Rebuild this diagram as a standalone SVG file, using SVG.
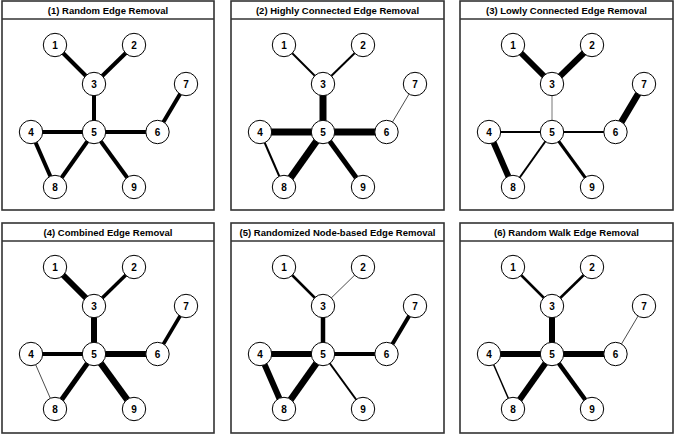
<svg xmlns="http://www.w3.org/2000/svg" width="675" height="434" viewBox="0 0 675 434">
<style>
.frame{fill:#fff;stroke:#333;stroke-width:1.6}
.sep{stroke:#333;stroke-width:1.6}
.title{font-family:"Liberation Sans",Arial,sans-serif;font-weight:bold;font-size:9.5px;fill:#000;text-anchor:middle}
.node circle{fill:#fff;stroke:#000;stroke-width:1}
.node text{font-family:"Liberation Sans",Arial,sans-serif;font-weight:bold;font-size:10px;fill:#000;text-anchor:middle;dominant-baseline:central}
.edges line{stroke:#000;stroke-linecap:butt}
</style>
<rect width="675" height="434" fill="#fff"/>
<defs>
<g id="nodes">
<g class="node"><circle cx="53" cy="44" r="11.7"/><text x="53" y="44">1</text></g>
<g class="node"><circle cx="132" cy="44" r="11.7"/><text x="132" y="44">2</text></g>
<g class="node"><circle cx="92" cy="83" r="11.7"/><text x="92" y="83">3</text></g>
<g class="node"><circle cx="184" cy="83" r="11.7"/><text x="184" y="83">7</text></g>
<g class="node"><circle cx="29" cy="131" r="11.7"/><text x="29" y="131">4</text></g>
<g class="node"><circle cx="92" cy="131" r="11.7"/><text x="92" y="131">5</text></g>
<g class="node"><circle cx="155.5" cy="131" r="11.7"/><text x="155.5" y="131">6</text></g>
<g class="node"><circle cx="53" cy="186" r="11.7"/><text x="53" y="186">8</text></g>
<g class="node"><circle cx="132" cy="186" r="11.7"/><text x="132" y="186">9</text></g>
</g>
</defs>

<!-- Panel 1 -->
<g id="panel1" transform="translate(2,1)">
<rect class="frame" x="0" y="0" width="212" height="209"/>
<line class="sep" x1="0" y1="18" x2="212" y2="18"/>
<text class="title" x="106" y="13">(1) Random Edge Removal</text>
<g class="edges" id="p1-edges">
<line x1="53" y1="44" x2="92" y2="83" stroke-width="4"/>
<line x1="132" y1="44" x2="92" y2="83" stroke-width="4"/>
<line x1="92" y1="83" x2="92" y2="131" stroke-width="4"/>
<line x1="29" y1="131" x2="92" y2="131" stroke-width="4"/>
<line x1="92" y1="131" x2="155.5" y2="131" stroke-width="4"/>
<line x1="155.5" y1="131" x2="184" y2="83" stroke-width="4"/>
<line x1="29" y1="131" x2="53" y2="186" stroke-width="4"/>
<line x1="92" y1="131" x2="53" y2="186" stroke-width="4"/>
<line x1="92" y1="131" x2="132" y2="186" stroke-width="4"/>
</g>
<g id="p1-nodes"><use href="#nodes"/></g>
</g>

<!-- Panel 2 -->
<g id="panel2" transform="translate(231,1)">
<rect class="frame" x="0" y="0" width="213" height="209"/>
<line class="sep" x1="0" y1="18" x2="213" y2="18"/>
<text class="title" x="106.5" y="13">(2) Highly Connected Edge Removal</text>
<g class="edges" id="p2-edges">
<line x1="53" y1="44" x2="92" y2="83" stroke-width="2"/>
<line x1="132" y1="44" x2="92" y2="83" stroke-width="2"/>
<line x1="92" y1="83" x2="92" y2="131" stroke-width="7"/>
<line x1="29" y1="131" x2="92" y2="131" stroke-width="7"/>
<line x1="92" y1="131" x2="155.5" y2="131" stroke-width="7"/>
<line x1="155.5" y1="131" x2="184" y2="83" stroke-width="0.7"/>
<line x1="29" y1="131" x2="53" y2="186" stroke-width="2"/>
<line x1="92" y1="131" x2="53" y2="186" stroke-width="7"/>
<line x1="92" y1="131" x2="132" y2="186" stroke-width="5"/>
</g>
<g id="p2-nodes"><use href="#nodes"/></g>
</g>

<!-- Panel 3 -->
<g id="panel3" transform="translate(460,1)">
<rect class="frame" x="0" y="0" width="213" height="209"/>
<line class="sep" x1="0" y1="18" x2="213" y2="18"/>
<text class="title" x="106.5" y="13">(3) Lowly Connected Edge Removal</text>
<g class="edges" id="p3-edges">
<line x1="53" y1="44" x2="92" y2="83" stroke-width="6"/>
<line x1="132" y1="44" x2="92" y2="83" stroke-width="6"/>
<line x1="92" y1="83" x2="92" y2="131" stroke-width="1" style="stroke:#777"/>
<line x1="29" y1="131" x2="92" y2="131" stroke-width="2"/>
<line x1="92" y1="131" x2="155.5" y2="131" stroke-width="2"/>
<line x1="155.5" y1="131" x2="184" y2="83" stroke-width="6.5"/>
<line x1="29" y1="131" x2="53" y2="186" stroke-width="6"/>
<line x1="92" y1="131" x2="53" y2="186" stroke-width="2"/>
<line x1="92" y1="131" x2="132" y2="186" stroke-width="3"/>
</g>
<g id="p3-nodes"><use href="#nodes"/></g>
</g>

<!-- Panel 4 -->
<g id="panel4" transform="translate(2,223)">
<rect class="frame" x="0" y="0" width="212" height="210"/>
<line class="sep" x1="0" y1="18" x2="212" y2="18"/>
<text class="title" x="106" y="13">(4) Combined Edge Removal</text>
<g class="edges" id="p4-edges">
<line x1="53" y1="44" x2="92" y2="83" stroke-width="6"/>
<line x1="132" y1="44" x2="92" y2="83" stroke-width="3.5"/>
<line x1="92" y1="83" x2="92" y2="131" stroke-width="6"/>
<line x1="29" y1="131" x2="92" y2="131" stroke-width="4"/>
<line x1="92" y1="131" x2="155.5" y2="131" stroke-width="6"/>
<line x1="155.5" y1="131" x2="184" y2="83" stroke-width="3.5"/>
<line x1="29" y1="131" x2="53" y2="186" stroke-width="0.7"/>
<line x1="92" y1="131" x2="53" y2="186" stroke-width="5"/>
<line x1="92" y1="131" x2="132" y2="186" stroke-width="6.5"/>
</g>
<g id="p4-nodes"><use href="#nodes"/></g>
</g>

<!-- Panel 5 -->
<g id="panel5" transform="translate(231,223)">
<rect class="frame" x="0" y="0" width="213" height="210"/>
<line class="sep" x1="0" y1="18" x2="213" y2="18"/>
<text class="title" x="106.5" y="13">(5) Randomized Node-based Edge Removal</text>
<g class="edges" id="p5-edges">
<line x1="53" y1="44" x2="92" y2="83" stroke-width="2.5"/>
<line x1="132" y1="44" x2="92" y2="83" stroke-width="0.7"/>
<line x1="92" y1="83" x2="92" y2="131" stroke-width="4.5"/>
<line x1="29" y1="131" x2="92" y2="131" stroke-width="6"/>
<line x1="92" y1="131" x2="155.5" y2="131" stroke-width="4"/>
<line x1="155.5" y1="131" x2="184" y2="83" stroke-width="4"/>
<line x1="29" y1="131" x2="53" y2="186" stroke-width="6"/>
<line x1="92" y1="131" x2="53" y2="186" stroke-width="6.5"/>
<line x1="92" y1="131" x2="132" y2="186" stroke-width="2"/>
</g>
<g id="p5-nodes"><use href="#nodes"/></g>
</g>

<!-- Panel 6 -->
<g id="panel6" transform="translate(460,223)">
<rect class="frame" x="0" y="0" width="213" height="210"/>
<line class="sep" x1="0" y1="18" x2="213" y2="18"/>
<text class="title" x="106.5" y="13">(6) Random Walk Edge Removal</text>
<g class="edges" id="p6-edges">
<line x1="53" y1="44" x2="92" y2="83" stroke-width="2.5"/>
<line x1="132" y1="44" x2="92" y2="83" stroke-width="2.5"/>
<line x1="92" y1="83" x2="92" y2="131" stroke-width="6"/>
<line x1="29" y1="131" x2="92" y2="131" stroke-width="6"/>
<line x1="92" y1="131" x2="155.5" y2="131" stroke-width="6"/>
<line x1="155.5" y1="131" x2="184" y2="83" stroke-width="0.7"/>
<line x1="29" y1="131" x2="53" y2="186" stroke-width="1.5"/>
<line x1="92" y1="131" x2="53" y2="186" stroke-width="6"/>
<line x1="92" y1="131" x2="132" y2="186" stroke-width="4.5"/>
</g>
<g id="p6-nodes"><use href="#nodes"/></g>
</g>
</svg>
